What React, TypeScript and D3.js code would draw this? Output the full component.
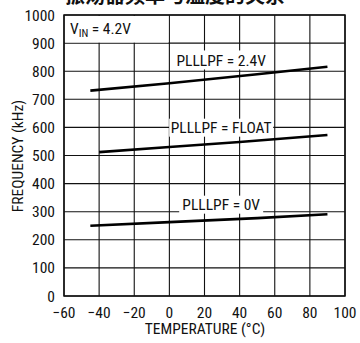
import React from "react";
import * as d3 from "d3";

const xTicks = [-60, -40, -20, 0, 20, 40, 60, 80, 100];
const yTicks = [0, 100, 200, 300, 400, 500, 600, 700, 800, 900, 1000];

const temp24 = [-45, 0, 50, 90];
const freq24 = [731, 757, 789, 816];
const tempFloat = [-40, 0, 40, 90];
const freqFloat = [512, 530, 548, 573];
const temp0 = [-45, 0, 50, 90];
const freq0 = [250, 263, 277, 291];

const seriesLabels = ["PLLLPF = 2.4V", "PLLLPF = FLOAT", "PLLLPF = 0V"];
const titleText = "振荡器频率与温度的关系";
const vinText = ["V", "IN", " = 4.2V"];

const W = 360;
const H = 343;
const M = { left: 64, right: 345, top: 15, bottom: 296 };
const FONT = "'Liberation Sans Narrow', 'Roboto Condensed', 'Liberation Sans', sans-serif";
const FS = 15.5;

export default function App() {
  const x = d3.scaleLinear().domain([-60, 100]).range([M.left, M.right]);
  const y = d3.scaleLinear().domain([0, 1000]).range([M.bottom, M.top]);
  const line = d3
    .line<[number, number]>()
    .x((d) => x(d[0]))
    .y((d) => y(d[1]));

  const series = [
    { t: temp24, f: freq24 },
    { t: tempFloat, f: freqFloat },
    { t: temp0, f: freq0 },
  ];

  // label boxes: center temperature / frequency, width, height
  const labelPos = [
    { cx: 29.5, cy: 840, w: 96, h: 19 },
    { cx: 29.5, cy: 599, w: 104, h: 18 },
    { cx: 29.5, cy: 325, w: 84, h: 18 },
  ];

  return (
    <div style={{ position: "fixed", left: 0, top: 0 }}>
      <svg width={W} height={H} style={{ display: "block", background: "#fff" }}>
        <text
          x={65}
          y={3}
          fontFamily="'Noto Sans CJK SC', sans-serif"
          fontWeight={700}
          fontSize={20}
          fill="#111"
        >
          {titleText}
        </text>
        {/* grid */}
        {xTicks.map((t) => (
          <line key={"gx" + t} x1={x(t)} x2={x(t)} y1={M.top} y2={M.bottom} stroke="#111" strokeWidth={1.1} />
        ))}
        {yTicks.map((t) => (
          <line key={"gy" + t} x1={M.left} x2={M.right} y1={y(t)} y2={y(t)} stroke="#111" strokeWidth={1.1} />
        ))}
        {/* VIN box */}
        <rect x={M.left + 1} y={M.top + 1} width={x(0) - M.left - 2} height={y(900) - M.top - 1.5} fill="#fff" />
        <text x={70} y={34} fontFamily={FONT} fontSize={FS} fill="#111">
          {vinText[0]}
          <tspan fontSize={11} dy={3}>{vinText[1]}</tspan>
          <tspan dy={-3}>{vinText[2]}</tspan>
        </text>
        {/* curves */}
        {series.map((s, i) => (
          <path
            key={"s" + i}
            d={line(s.t.map((t, j) => [t, s.f[j]] as [number, number])) || ""}
            fill="none"
            stroke="#000"
            strokeWidth={2.6}
          />
        ))}
        {/* series labels */}
        {seriesLabels.map((lab, i) => {
          const p = labelPos[i];
          const cx = x(p.cx);
          const cy = y(p.cy);
          return (
            <g key={"l" + i}>
              <rect x={cx - p.w / 2} y={cy - p.h / 2} width={p.w} height={p.h} fill="#fff" />
              <text x={cx} y={cy} dy="0.36em" textAnchor="middle" fontFamily={FONT} fontSize={FS} fill="#111">
                {lab}
              </text>
            </g>
          );
        })}
        {/* frame */}
        <rect
          x={M.left}
          y={M.top}
          width={M.right - M.left}
          height={M.bottom - M.top}
          fill="none"
          stroke="#111"
          strokeWidth={1.5}
        />
        {/* y tick labels */}
        {yTicks.map((t) => (
          <text
            key={"yl" + t}
            x={55}
            y={y(t)}
            dy="0.36em"
            textAnchor="end"
            fontFamily={FONT}
            fontSize={FS}
            fill="#111"
          >
            {t}
          </text>
        ))}
        {/* x tick labels */}
        {xTicks.map((t) => (
          <text
            key={"xl" + t}
            x={x(t)}
            y={317.5}
            textAnchor="middle"
            fontFamily={FONT}
            fontSize={FS}
            fill="#111"
          >
            {t < 0 ? "\u2212" + Math.abs(t) : String(t)}
          </text>
        ))}
        <text x={205} y={334} textAnchor="middle" fontFamily={FONT} fontSize={FS} fill="#111">
          TEMPERATURE (°C)
        </text>
        <text
          transform={`translate(23,156) rotate(-90)`}
          textAnchor="middle"
          fontFamily={FONT}
          fontSize={FS}
          fill="#111"
        >
          FREQUENCY (kHz)
        </text>
      </svg>
    </div>
  );
}
